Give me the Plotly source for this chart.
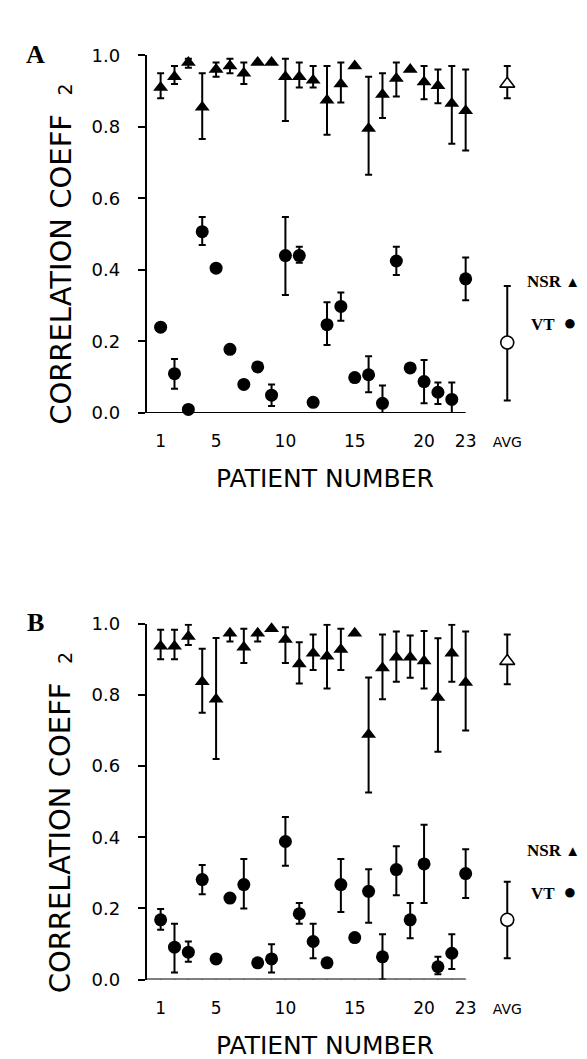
import plotly.graph_objects as go

W, H = 587, 1059

# ---------------- data ----------------
PATIENTS = list(range(1, 24))
AVG_POS = 26
XTICK_VALS = [1, 5, 10, 15, 20, 23, 26]
XTICK_TEXT = ['1', '5', '10', '15', '20', '23', '<span style="font-size:14px">AVG</span>']
YTICK_VALS = [0.0, 0.2, 0.4, 0.6, 0.8, 1.0]

# Panel A - NSR (value, lower bound, upper bound)
A_NSR = [0.91, 0.94, 0.98, 0.855, 0.96, 0.97, 0.95, 0.98, 0.98, 0.94, 0.94, 0.93,
         0.874, 0.92, 0.97, 0.795, 0.89, 0.935, 0.96, 0.925, 0.915, 0.865, 0.845]
A_NSR_LO = [0.88, 0.92, 0.965, 0.766, 0.94, 0.95, 0.92, 0.98, 0.98, 0.816, 0.91, 0.91,
            0.778, 0.868, 0.97, 0.666, 0.825, 0.885, 0.96, 0.877, 0.866, 0.753, 0.734]
A_NSR_HI = [0.95, 0.97, 0.99, 0.95, 0.98, 0.99, 0.98, 0.98, 0.98, 0.99, 0.98, 0.97,
            0.97, 0.98, 0.97, 0.94, 0.95, 0.98, 0.96, 0.97, 0.96, 0.97, 0.96]
A_NSR_AVG, A_NSR_AVG_LO, A_NSR_AVG_HI = 0.92, 0.88, 0.97

# Panel A - VT
A_VT = [0.24, 0.11, 0.01, 0.507, 0.405, 0.178, 0.08, 0.129, 0.05, 0.44, 0.44, 0.03,
        0.247, 0.298, 0.099, 0.107, 0.027, 0.425, 0.126, 0.088, 0.058, 0.038, 0.375]
A_VT_LO = [0.24, 0.068, 0.01, 0.47, 0.405, 0.178, 0.08, 0.129, 0.02, 0.33, 0.42, 0.03,
           0.19, 0.258, 0.099, 0.058, 0.0, 0.386, 0.126, 0.027, 0.025, 0.0, 0.315]
A_VT_HI = [0.24, 0.151, 0.01, 0.548, 0.405, 0.178, 0.08, 0.129, 0.08, 0.548, 0.465, 0.03,
           0.31, 0.337, 0.099, 0.159, 0.077, 0.465, 0.126, 0.148, 0.085, 0.085, 0.435]
A_VT_AVG, A_VT_AVG_LO, A_VT_AVG_HI = 0.197, 0.035, 0.355

# Panel B - NSR
B_NSR = [0.937, 0.937, 0.964, 0.837, 0.788, 0.973, 0.934, 0.973, 0.986, 0.956, 0.887, 0.917,
         0.909, 0.928, 0.973, 0.689, 0.876, 0.906, 0.906, 0.895, 0.793, 0.917, 0.835]
B_NSR_LO = [0.90, 0.90, 0.94, 0.75, 0.62, 0.95, 0.89, 0.95, 0.986, 0.89, 0.832, 0.87,
            0.818, 0.87, 0.973, 0.526, 0.788, 0.837, 0.848, 0.818, 0.64, 0.837, 0.70]
B_NSR_HI = [0.983, 0.983, 0.997, 0.93, 0.96, 0.973, 0.986, 0.973, 0.986, 0.99, 0.948, 0.97,
            0.997, 0.986, 0.973, 0.849, 0.97, 0.978, 0.967, 0.98, 0.959, 0.997, 0.978]
B_NSR_AVG, B_NSR_AVG_LO, B_NSR_AVG_HI = 0.895, 0.83, 0.97

# Panel B - VT
B_VT = [0.168, 0.091, 0.077, 0.281, 0.058, 0.229, 0.267, 0.047, 0.058, 0.388, 0.185, 0.107,
        0.047, 0.267, 0.118, 0.248, 0.064, 0.309, 0.168, 0.325, 0.036, 0.074, 0.298]
B_VT_LO = [0.14, 0.02, 0.05, 0.24, 0.058, 0.229, 0.20, 0.047, 0.02, 0.32, 0.157, 0.06,
           0.047, 0.19, 0.118, 0.16, 0.0, 0.237, 0.116, 0.215, 0.015, 0.03, 0.229]
B_VT_HI = [0.198, 0.157, 0.107, 0.322, 0.058, 0.229, 0.339, 0.047, 0.099, 0.457, 0.215, 0.157,
           0.047, 0.339, 0.118, 0.31, 0.127, 0.375, 0.215, 0.435, 0.064, 0.127, 0.366]
B_VT_AVG, B_VT_AVG_LO, B_VT_AVG_HI = 0.168, 0.06, 0.275

# ---------------- layout helpers ----------------
def px(x):
    return x / W

def py(y):
    return 1 - y / H

X_LEFT, X_RIGHT = 139, 514
X_RANGE = [0, 27]
PANELS = [
    dict(xa='x', ya='y', top=37, bottom=402, letter='A'),
    dict(xa='x2', ya='y2', top=617, bottom=980, letter='B'),
]

FONT = "DejaVu Sans"
SERIF = "Liberation Serif"

fig = go.Figure()

def err(vals, lo, hi):
    return dict(type='data', symmetric=False,
                array=[h - v for v, h in zip(vals, hi)],
                arrayminus=[v - l for v, l in zip(vals, lo)],
                color='black', thickness=2, width=3.5)

series = [
    (A_NSR, A_NSR_LO, A_NSR_HI, (A_NSR_AVG, A_NSR_AVG_LO, A_NSR_AVG_HI), 'triangle-up', 0),
    (A_VT, A_VT_LO, A_VT_HI, (A_VT_AVG, A_VT_AVG_LO, A_VT_AVG_HI), 'circle', 0),
    (B_NSR, B_NSR_LO, B_NSR_HI, (B_NSR_AVG, B_NSR_AVG_LO, B_NSR_AVG_HI), 'triangle-up', 1),
    (B_VT, B_VT_LO, B_VT_HI, (B_VT_AVG, B_VT_AVG_LO, B_VT_AVG_HI), 'circle', 1),
]

for vals, lo, hi, avg, sym, pi in series:
    p = PANELS[pi]
    size = 13
    fig.add_trace(go.Scatter(
        x=PATIENTS, y=vals, mode='markers', xaxis=p['xa'], yaxis=p['ya'],
        marker=dict(symbol=sym, size=size, color='black', line=dict(width=0)),
        error_y=err(vals, lo, hi), cliponaxis=False, showlegend=False))
    fig.add_trace(go.Scatter(
        x=[AVG_POS], y=[avg[0]], mode='markers', xaxis=p['xa'], yaxis=p['ya'],
        marker=dict(symbol=sym, size=size, color='white', line=dict(width=1.6, color='black')),
        error_y=err([avg[0]], [avg[1]], [avg[2]]), cliponaxis=False, showlegend=False))

shapes = []
annotations = []
for i, p in enumerate(PANELS):
    xk = 'xaxis' if i == 0 else 'xaxis2'
    yk = 'yaxis' if i == 0 else 'yaxis2'
    fig.update_layout({
        xk: dict(domain=[px(X_LEFT), px(X_RIGHT)], range=X_RANGE, anchor=p['ya'],
                 showline=False, showgrid=False, zeroline=False, ticks='',
                 tickvals=XTICK_VALS, ticktext=XTICK_TEXT,
                 tickfont=dict(family=FONT, size=17, color='black'),
                 ticklabelstandoff=16),
        yk: dict(domain=[py(p['bottom']), py(p['top'])], range=[0, 1], anchor=p['xa'],
                 showline=True, linewidth=2, linecolor='black', showgrid=False, zeroline=False,
                 ticks='outside', ticklen=7, tickwidth=2, tickcolor='black',
                 tickvals=YTICK_VALS, tickformat='.1f',
                 tickfont=dict(family=FONT, size=18, color='black'),
                 ticklabelstandoff=14),
    })
    xr = p['xa']
    yr = p['ya']
    # x axis line from 0 to last patient
    shapes.append(dict(type='line', xref=xr, yref=yr, x0=0, x1=PATIENTS[-1], y0=0, y1=0,
                       line=dict(color='black', width=2)))
    for q in PATIENTS:
        shapes.append(dict(type='line', xref=xr, yref=yr, ysizemode='pixel', yanchor=0,
                           x0=q, x1=q, y0=0, y1=-6, line=dict(color='black', width=1.6)))
    off = p['top'] - 37
    annotations += [
        dict(text='PATIENT NUMBER', x=px(318), y=py(p['bottom'] + 67), xref='paper', yref='paper',
             showarrow=False, font=dict(family=FONT, size=25, color='black'),
             xanchor='center', yanchor='middle'),
        dict(text='CORRELATION COEFF', x=px(53), y=py(255 + off), xref='paper', yref='paper',
             showarrow=False, textangle=-90, font=dict(family=FONT, size=29, color='black'),
             xanchor='center', yanchor='middle'),
        dict(text='2', x=px(57), y=py(72 + off), xref='paper', yref='paper',
             showarrow=False, textangle=-90, font=dict(family=FONT, size=19, color='black'),
             xanchor='center', yanchor='middle'),
        dict(text='<b>' + p['letter'] + '</b>', x=px(28), y=py(36 + off), xref='paper', yref='paper',
             showarrow=False, font=dict(family=SERIF, size=26, color='black'),
             xanchor='center', yanchor='middle'),
        dict(text='<b>NSR</b> <span style="font-size:15px">▲</span>', x=px(546), y=py(268 + off),
             xref='paper', yref='paper',
             showarrow=False, font=dict(family=SERIF, size=17, color='black'),
             xanchor='center', yanchor='middle'),
        dict(text='<b>VT</b>  <span style="font-size:22px">●</span>', x=px(546), y=py(310 + off),
             xref='paper', yref='paper',
             showarrow=False, font=dict(family=SERIF, size=17, color='black'),
             xanchor='center', yanchor='middle'),
    ]

fig.update_layout(width=W, height=H, margin=dict(l=0, r=0, t=0, b=0),
                  paper_bgcolor='white', plot_bgcolor='white',
                  shapes=shapes, annotations=annotations, showlegend=False)

fig.write_html("out.html")
